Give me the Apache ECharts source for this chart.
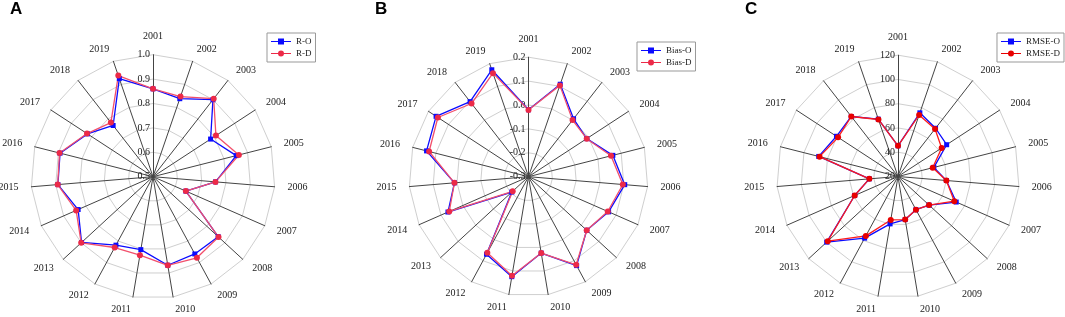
<!DOCTYPE html>
<html>
<head>
<meta charset="utf-8">
<script src="https://cdn.jsdelivr.net/npm/echarts@6/dist/echarts.min.js"></script>
<style>
  html, body { margin: 0; padding: 0; background: #fff; }
  #chart { width: 1065px; height: 317px; }
</style>
</head>
<body>
<div id="chart"></div>
<script>
// ─────────────────────────────────────────
// DATA
// ─────────────────────────────────────────
const years = ['2001', '2002', '2003', '2004', '2005', '2006', '2007', '2008', '2009', '2010',
  '2011', '2012', '2013', '2014', '2015', '2016', '2017', '2018', '2019']

const rO = [0.86, 0.838, 0.90, 0.782, 0.852, 0.757, 0.647, 0.863, 0.86, 0.868,
  0.803, 0.819, 0.898, 0.835, 0.891, 0.893, 0.821, 0.766, 0.925]
const rD = [0.86, 0.847, 0.905, 0.808, 0.863, 0.757, 0.647, 0.865, 0.878, 0.868,
  0.826, 0.83, 0.90, 0.844, 0.892, 0.895, 0.823, 0.781, 0.938]

const biasO = [-0.02, 0.109, 0.007, -0.009, 0.064, 0.104, 0.066, 0.031, 0.123, 0.024,
  0.124, 0.069, -0.205, 0.068, 0.011, 0.14, 0.162, 0.098, 0.173]
const biasD = [-0.021, 0.104, 0.0, -0.009, 0.056, 0.096, 0.062, 0.031, 0.119, 0.024,
  0.12, 0.062, -0.21, 0.062, 0.011, 0.129, 0.153, 0.088, 0.158]

const rmseO = [45.3, 75.5, 70.4, 67.9, 50.5, 60, 72.4, 54.8, 51.1, 56,
  59.6, 77.8, 99.9, 59, 43.7, 87.4, 80.6, 82.7, 70]
const rmseD = [45.3, 73.6, 69.7, 63, 49.5, 60, 70.7, 54.8, 51.1, 56,
  56.3, 75.7, 98.7, 59, 43.7, 86.7, 79, 82.7, 69.7]

const rTicks = ['0.5', '0.6', '0.7', '0.8', '0.9', '1.0']
const biasTicks = ['-0.3', '-0.2', '-0.1', '0.0', '0.1', '0.2']
const rmseTicks = ['20', '40', '60', '80', '100', '120']

// ─────────────────────────────────────────
// HELPERS
// ─────────────────────────────────────────
// radar runs counter-clockwise, the figure runs clockwise
const cw = arr => [arr[0]].concat(arr.slice(1).reverse())

const SERIF = '"Liberation Serif", "DejaVu Serif", serif'

const ICON_SQ = 'path://M0,2.4H7V3.6H0Z M7,0H13V6H7Z M13,2.4H20V3.6H13Z'
const ICON_CI = 'path://M0,2.4H7.2V3.6H0Z M12.8,2.4H20V3.6H12.8Z M13,3A3,3 0 1,1 7,3A3,3 0 1,1 13,3Z'

function makeRadar(center, radius, ticks) {
  const min = parseFloat(ticks[0])
  const max = parseFloat(ticks[ticks.length - 1])
  const step = (max - min) / (ticks.length - 1)
  const indicator = cw(years).map((y, i) => {
    const ind = { name: y, min, max }
    if (i === 0) {
      ind.axisLabel = {
        show: true,
        color: '#222',
        fontFamily: SERIF,
        fontSize: 10,
        margin: 3,
        formatter: v => ticks[Math.round((v - min) / step)] || ''
      }
    }
    return ind
  })
  return {
    center,
    radius,
    startAngle: 90,
    splitNumber: ticks.length - 1,
    shape: 'polygon',
    indicator,
    axisName: { color: '#222', fontFamily: SERIF, fontSize: 10 },
    nameGap: 13,
    axisLine: { lineStyle: { color: '#444', width: 1 } },
    axisTick: { show: false },
    axisLabel: { show: false },
    splitLine: { lineStyle: { color: '#cfcfcf', width: 1 } },
    splitArea: { show: false }
  }
}

function makeItem(name, values, color, lineColor, symbol, size) {
  return {
    name,
    value: cw(values),
    symbol,
    symbolSize: size,
    itemStyle: { color },
    lineStyle: { color: lineColor, width: 1.3 }
  }
}

function makeLegend(names, pos) {
  return Object.assign({
    orient: 'vertical',
    data: [{ name: names[0], icon: ICON_SQ }, { name: names[1], icon: ICON_CI }],
    itemWidth: 20,
    itemHeight: 6,
    itemGap: 1,
    padding: [3, 4, 3, 4],
    borderColor: '#999',
    borderWidth: 1,
    borderRadius: 0,
    textStyle: { fontFamily: SERIF, fontSize: 9, color: '#222', lineHeight: 11 }
  }, pos)
}

// ─────────────────────────────────────────
// CHART
// ─────────────────────────────────────────
const blue = '#0a0aff'
const pink = '#ec2a48'
const pinkLine = '#f2506c'
const red = '#e80000'
const redLine = '#ff1a1a'

const chart = echarts.init(document.getElementById('chart'), null, { renderer: 'canvas' })

chart.setOption({
  animation: false,
  backgroundColor: '#fff',
  title: ['A', 'B', 'C'].map((t, i) => ({
    text: t,
    left: [10, 375, 745][i],
    top: 1,
    padding: 0,
    textStyle: { fontFamily: '"Liberation Sans", Arial, sans-serif', fontSize: 17, fontWeight: 'bold', color: '#000' }
  })),
  legend: [
    makeLegend(['R-O', 'R-D'], { left: 267, top: 33 }),
    makeLegend(['Bias-O', 'Bias-D'], { left: 637, top: 42 }),
    makeLegend(['RMSE-O', 'RMSE-D'], { right: 1, top: 33 })
  ],
  radar: [
    makeRadar([153, 176.7], 122, rTicks),
    makeRadar([528.5, 176.7], 119.5, biasTicks),
    makeRadar([898, 176.5], 121.3, rmseTicks)
  ],
  series: [
    {
      type: 'radar', radarIndex: 0, z: 3,
      data: [
        makeItem('R-O', rO, blue, blue, 'rect', 5),
        makeItem('R-D', rD, pink, pinkLine, 'circle', 6)
      ]
    },
    {
      type: 'radar', radarIndex: 1, z: 3,
      data: [
        makeItem('Bias-O', biasO, blue, blue, 'rect', 5),
        makeItem('Bias-D', biasD, pink, pinkLine, 'circle', 6)
      ]
    },
    {
      type: 'radar', radarIndex: 2, z: 3,
      data: [
        makeItem('RMSE-O', rmseO, blue, blue, 'rect', 5),
        makeItem('RMSE-D', rmseD, red, redLine, 'circle', 6)
      ]
    }
  ]
})
</script>
</body>
</html>
